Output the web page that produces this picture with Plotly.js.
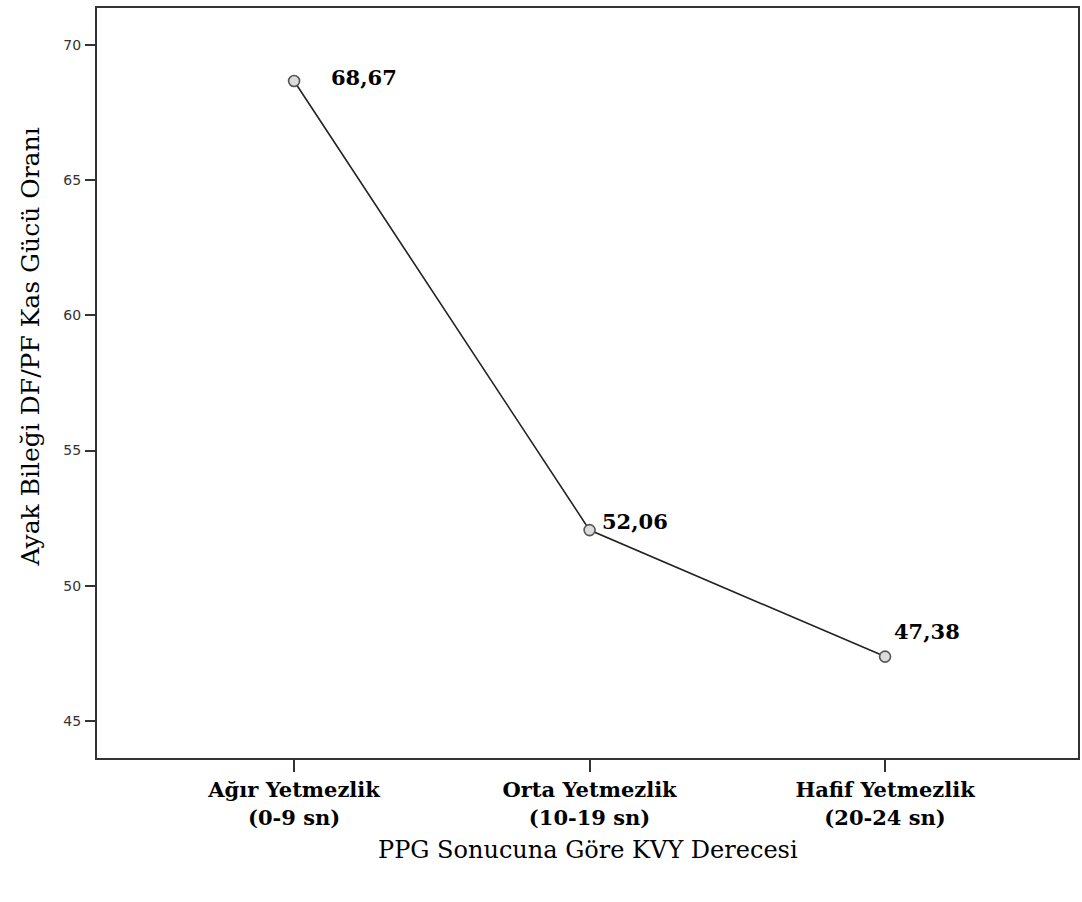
<!DOCTYPE html>
<html><head><meta charset="utf-8">
<script src="https://cdn.plot.ly/plotly-3.0.1.min.js"></script>
<style>body{margin:0;background:#fff}#chart{width:1082px;height:902px}</style>
</head><body><div id="chart"></div>
<script>
const categories = ["Ağır Yetmezlik<br>(0-9 sn)", "Orta Yetmezlik<br>(10-19 sn)", "Hafif Yetmezlik<br>(20-24 sn)"];
const values = [68.67, 52.06, 47.38];
const labelOffsets = [[70, -4], [45, -9], [42, -25]];
const yTicks = [45, 50, 55, 60, 65, 70];
const xTitle = "PPG Sonucuna Göre KVY Derecesi";
const yTitle = "Ayak Bileği DF/PF Kas Gücü Oranı";

const xIdx = categories.map((_, i) => i);
const trace = {
  x: xIdx, y: values, type: 'scatter', mode: 'lines+markers',
  line: {color: '#222', width: 1.6},
  marker: {symbol: 'circle', size: 11, color: '#dcdcdc', line: {color: '#555', width: 1.6}},
  hoverinfo: 'skip', cliponaxis: false
};
const annotations = values.map((v, i) => ({
  x: i, y: v, xref: 'x', yref: 'y', showarrow: false,
  text: v.toFixed(2).replace('.', ','),
  xshift: labelOffsets[i][0], yshift: -labelOffsets[i][1],
  font: {family: 'DejaVu Serif', size: 21, color: '#000', weight: 'bold'}
}));
annotations.push({
  xref: 'paper', yref: 'paper', x: 0.5, y: 0, yshift: -108, showarrow: false,
  text: xTitle, font: {family: 'DejaVu Serif', size: 24, color: '#000'}
});
annotations.push({
  xref: 'paper', yref: 'paper', x: 0, xshift: -84, y: 0.5, yshift: 36, showarrow: false,
  textangle: -90, text: yTitle, font: {family: 'DejaVu Serif', size: 25, color: '#000'}
});
const layout = {
  width: 1082, height: 902,
  margin: {l: 97, r: 4, t: 8, b: 144},
  paper_bgcolor: '#fff', plot_bgcolor: '#fff',
  showlegend: false,
  xaxis: {
    range: [-0.667, 2.653], tickvals: xIdx, ticktext: categories,
    showgrid: false, zeroline: false, showline: true, mirror: true,
    linecolor: '#333', linewidth: 2, ticks: 'outside', ticklen: 12, tickwidth: 2, tickcolor: '#333',
    tickfont: {family: 'DejaVu Serif', size: 21, color: '#000', weight: 'bold'}
  },
  yaxis: {
    range: [43.63, 71.37], tickvals: yTicks,
    showgrid: false, zeroline: false, showline: true, mirror: true,
    linecolor: '#333', linewidth: 2, ticks: 'outside', ticklen: 10, tickwidth: 2, tickcolor: '#333',
    ticklabelstandoff: 1,
    tickfont: {family: 'DejaVu Sans', size: 14, color: '#333'}
  },
  annotations: annotations
};
Plotly.newPlot('chart', [trace], layout, {staticPlot: true});
</script></body></html>
